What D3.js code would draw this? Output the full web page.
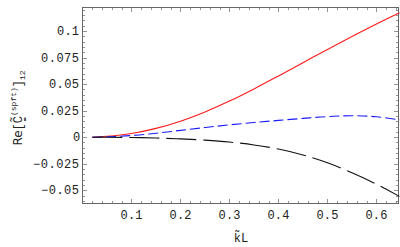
<!DOCTYPE html>
<html>
<head>
<meta charset="utf-8">
<script src="https://cdn.jsdelivr.net/npm/d3@7"></script>
<style>
  html, body { margin: 0; padding: 0; background: #fff; }
  #chart { width: 400px; height: 247px; }
</style>
</head>
<body>
<div id="chart"></div>
<script>
// kL values at which the curves were read
const kL = [0.02, 0.05, 0.1, 0.15, 0.2, 0.25, 0.3, 0.35, 0.4, 0.45, 0.5, 0.55, 0.6, 0.647]

// Re[C(spft)]_12, three curves
const redSolid = [0, 0.0008, 0.0035, 0.0083, 0.0151, 0.0238, 0.034, 0.0455, 0.0577, 0.0702, 0.0827, 0.0949, 0.1067, 0.1173]
const blueDashed = [0, 0.0003, 0.0015, 0.0037, 0.0064, 0.0091, 0.0116, 0.0138, 0.0158, 0.0177, 0.0194, 0.0202, 0.0192, 0.0164]
const blackLongDash = [0, 0, -0.0003, -0.0008, -0.0016, -0.0028, -0.0046, -0.0073, -0.0112, -0.0168, -0.0242, -0.0336, -0.0443, -0.0558]

const xTicks = [0.1, 0.2, 0.3, 0.4, 0.5, 0.6]
const yTicks = [-0.05, -0.025, 0, 0.025, 0.05, 0.075, 0.1]
const yTickLabels = ['\u22120.05', '\u22120.025', '0', '0.025', '0.05', '0.075', '0.1']

const series = [
    { name: 'red', values: redSolid, color: '#ff1a1a', dash: null },
    { name: 'blue', values: blueDashed, color: '#1a1aff', dash: '10,4' },
    { name: 'black', values: blackLongDash, color: '#111', dash: '30,7' }
]

const W = 400, H = 247
const mLeft = 82.5, mRight = 398.5, mTop = 7.5, mBottom = 203.5
const mono = 'Liberation Mono'
const charW = 8 // Courier-ish advance in the original

const svg = d3.select('#chart').append('svg')
    .attr('width', W)
    .attr('height', H)

const x = d3.scaleLinear().domain([0, 0.645]).range([mLeft, mRight])
const y = d3.scaleLinear().domain([-0.0625, 0.1222]).range([mBottom, mTop])

// frame
svg.append('rect')
    .attr('x', mLeft).attr('y', mTop)
    .attr('width', mRight - mLeft).attr('height', mBottom - mTop)
    .attr('fill', 'none')
    .attr('stroke', '#666')
    .attr('stroke-width', 1)

// inward ticks, minor + major, on all four sides
const xMinor = d3.range(0.02, 0.645, 0.02)
const yMinor = d3.range(-0.06, 0.122, 0.005)

const tickG = svg.append('g').attr('stroke', '#777').attr('stroke-width', 0.8)
const isMajorX = v => Math.abs(v * 10 - Math.round(v * 10)) < 1e-6
const isMajorY = v => Math.abs(v * 40 - Math.round(v * 40)) < 1e-6

xMinor.forEach(v => {
    const len = isMajorX(v) ? 4.5 : 2.5
    const px = Math.round(x(v)) + 0.5
    tickG.append('line').attr('x1', px).attr('x2', px).attr('y1', mBottom).attr('y2', mBottom - len)
    tickG.append('line').attr('x1', px).attr('x2', px).attr('y1', mTop).attr('y2', mTop + len)
})
yMinor.forEach(v => {
    const len = isMajorY(v) ? 4.5 : 2.5
    const py = Math.round(y(v)) + 0.5
    tickG.append('line').attr('y1', py).attr('y2', py).attr('x1', mLeft).attr('x2', mLeft + len)
    tickG.append('line').attr('y1', py).attr('y2', py).attr('x1', mRight).attr('x2', mRight - len)
})

// tick labels, stretched to the wide monospace spacing of the original
svg.append('g').selectAll('text')
    .data(xTicks)
    .enter().append('text')
    .attr('x', d => x(d) - (3 * charW - 2) / 2)
    .attr('y', 219)
    .attr('font-family', mono)
    .attr('font-size', 12)
    .attr('fill', '#222')
    .attr('textLength', 3 * charW - 2)
    .attr('lengthAdjust', 'spacing')
    .text(d => d3.format('.1f')(d))

svg.append('g').selectAll('text')
    .data(yTicks)
    .enter().append('text')
    .attr('x', (d, i) => 79 - (yTickLabels[i].length * charW - 2))
    .attr('y', d => y(d) + 4)
    .attr('font-family', mono)
    .attr('font-size', 12)
    .attr('fill', '#222')
    .attr('textLength', (d, i) => yTickLabels[i].length * charW - 2)
    .attr('lengthAdjust', 'spacing')
    .text((d, i) => yTickLabels[i])

// axis titles
svg.append('text')
    .attr('x', 241)
    .attr('y', 242)
    .attr('text-anchor', 'middle')
    .attr('font-family', mono)
    .attr('font-size', 12)
    .attr('fill', '#222')
    .text('k\u0303L')

const yl = svg.append('text')
    .attr('transform', 'translate(22,108) rotate(-90)')
    .attr('text-anchor', 'middle')
    .attr('font-family', mono)
    .attr('font-size', 12)
    .attr('fill', '#222')
yl.append('tspan').attr('font-family', 'DejaVu Sans').text('Re')
yl.append('tspan').text('[C\u0303\u0333')
yl.append('tspan').attr('dy', -6).attr('font-size', 8).text('(spft)')
yl.append('tspan').attr('dy', 6).text(']')
yl.append('tspan').attr('dy', 3).attr('font-size', 8).text('12')

// curves
const line = d3.line()
    .x((d, i) => x(kL[i]))
    .y(d => y(d))
    .curve(d3.curveCatmullRom)

svg.append('g').selectAll('path')
    .data(series)
    .enter().append('path')
    .attr('d', d => line(d.values))
    .attr('fill', 'none')
    .attr('stroke', d => d.color)
    .attr('stroke-width', 1.1)
    .attr('stroke-dasharray', d => d.dash)
</script>
</body>
</html>
